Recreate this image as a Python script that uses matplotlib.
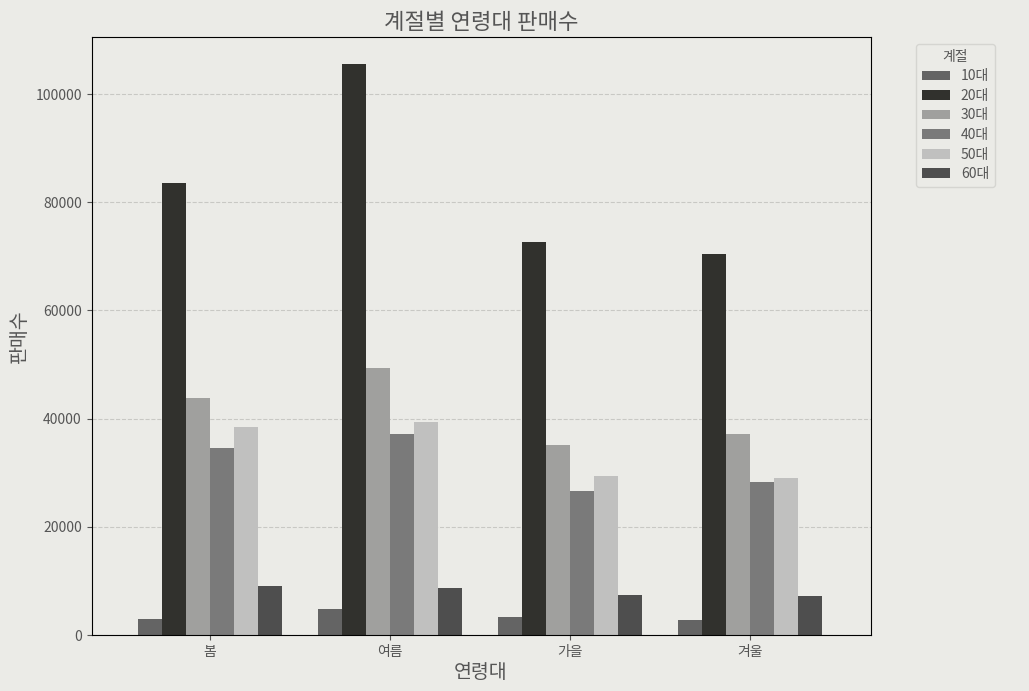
import numpy as np
import matplotlib
matplotlib.use('Agg')
import matplotlib.pyplot as plt

plt.rcParams['font.family'] = ['Noto Sans CJK KR', 'DejaVu Sans']

seasons = ['봄', '여름', '가을', '겨울']
ages = ['10대', '20대', '30대', '40대', '50대', '60대']
sales = {
    '10대': [3000, 4800, 3300, 2800],
    '20대': [83500, 105600, 72600, 70400],
    '30대': [43900, 49400, 35200, 37200],
    '40대': [34600, 37200, 26700, 28300],
    '50대': [38500, 39300, 29400, 29100],
    '60대': [9100, 8700, 7400, 7200],
}
colors = ['#646464', '#31312d', '#a0a09e', '#7a7a7a', '#c0c0bf', '#4e4e4e']

bg = '#ebebe7'
txt = '#555555'

fig, ax = plt.subplots(figsize=(10.29, 6.91), dpi=100)
fig.patch.set_facecolor(bg)
ax.set_facecolor(bg)

x = np.arange(len(seasons))
w = 0.8 / len(ages)
for i, a in enumerate(ages):
    ax.bar(x - 0.4 + w * (i + 0.5), sales[a], width=w, color=colors[i], label=a, zorder=2)

ax.set_xticks(x)
ax.set_xticklabels(seasons)
ax.set_xlim(-0.656, 3.667)
ax.set_ylim(0, 110500)
ax.grid(axis='y', linestyle='--', color='#c8c8c4', linewidth=0.8, zorder=0)

ax.set_title('계절별 연령대 판매수', fontsize=16, color=txt)
ax.set_xlabel('연령대', fontsize=14, color=txt, labelpad=2)
ax.set_ylabel('판매수', fontsize=14, color=txt)
ax.tick_params(colors=txt, labelsize=10)

leg = ax.legend(title='계절', loc='upper left', bbox_to_anchor=(1.05, 1.0),
                facecolor=bg, edgecolor='#d0d0cc', fontsize=10, title_fontsize=10,
                labelspacing=0.4)
for t in leg.get_texts():
    t.set_color(txt)
leg.get_title().set_color(txt)

plt.subplots_adjust(left=0.089, right=0.846, top=0.946, bottom=0.081)
fig.savefig('out.png', dpi=100, facecolor=bg)
